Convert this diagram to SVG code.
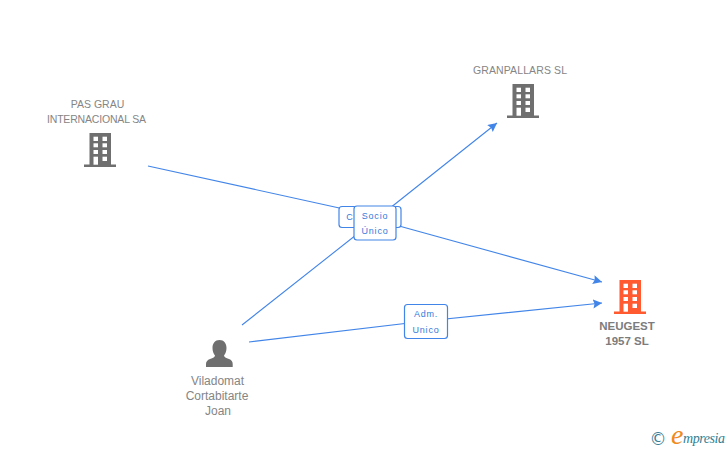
<svg xmlns="http://www.w3.org/2000/svg" width="728" height="450" viewBox="0 0 728 450">
<style>
text{font-family:"Liberation Sans",Arial,sans-serif}
.n{font-size:10.5px;fill:#858585;text-anchor:middle}
.b{font-size:11.5px;font-weight:bold;fill:#7c7c7c;text-anchor:middle}
.p{font-size:12px;fill:#858585;text-anchor:middle}
.l{font-size:9px;fill:#3579dc;text-anchor:middle;letter-spacing:.8px}
.c{fill:none;stroke:#4285e8;stroke-width:1.1}
.r{fill:#fff;stroke:#4285e8;stroke-width:1.2}
.g{fill:#6f6f6f}.o{fill:#ff5a30}.w{fill:#fff}
</style>
<defs>
<marker id="a" markerUnits="userSpaceOnUse" markerWidth="10" markerHeight="10" refX="9" refY="4.500" orient="auto"><path d="M0,0L9,4.500L0,9L1.500,4.500Z" fill="#4285e8"/></marker>
<g id="win">
<rect class="w" x="9.500" y="3.700" width="4.500" height="4.300"/><rect class="w" x="18.500" y="3.700" width="4.500" height="4.300"/>
<rect class="w" x="9.500" y="10.300" width="4.500" height="4"/><rect class="w" x="18.500" y="10.300" width="4.500" height="4"/>
<rect class="w" x="9.500" y="17" width="4.500" height="4"/><rect class="w" x="18.500" y="17" width="4.500" height="4"/>
<rect class="w" x="9.500" y="23.700" width="4.500" height="8"/><rect class="w" x="18.500" y="23.700" width="4.500" height="4.300"/>
</g>
<path id="bld" d="M5.500,0H27V31.500H32V34H0V31.500H5.500Z"/>
</defs>
<g id="connectors">
<polyline class="c" points="148,166 345,209.200 400,226.300 602,282" marker-end="url(#a)"/>
<polyline class="c" points="242,325 375,220 497,123" marker-end="url(#a)"/>
<polyline class="c" points="249,342 426,321 602,303" marker-end="url(#a)"/>
</g>
<g id="pas-grau">
<text class="n" x="97.500" y="108">PAS GRAU</text>
<text class="n" x="96.500" y="123" textLength="99">INTERNACIONAL SA</text>
<g transform="translate(84,133)"><use href="#bld" class="g"/><use href="#win"/></g>
</g>
<g id="granpallars">
<text class="n" x="520" y="74" textLength="94">GRANPALLARS SL</text>
<g transform="translate(507,84)"><use href="#bld" class="g"/><use href="#win"/></g>
</g>
<g id="neugest">
<g transform="translate(614,280)"><use href="#bld" class="o"/><use href="#win"/></g>
<text class="b" x="627" y="330">NEUGEST</text>
<text class="b" x="627" y="345">1957 SL</text>
</g>
<g id="viladomat">
<path class="g" d="M219.500,340C224,340 226.500,343.500 226.500,348C226.500,351 225.500,353.500 224,355.500C224,357 226,358 229,359C231.500,360 232.700,361.500 232.700,364V367H206V364C206,361.500 207.500,360 210,359C213,358 215,357 215,355.500C213.500,353.500 212.500,351 212.500,348C212.500,343.500 215,340 219.500,340Z"/>
<text class="p" x="217.500" y="385">Viladomat</text>
<text class="p" x="217" y="400">Cortabitarte</text>
<text class="p" x="218" y="415">Joan</text>
</g>
<g id="label-c">
<rect class="r" x="339" y="206.500" width="62" height="21" rx="3"/>
<text class="l" x="350" y="220">C</text>
</g>
<g id="label-socio">
<rect class="r" x="354" y="206" width="42" height="34" rx="3"/>
<text class="l" x="375" y="219">Socio</text>
<text class="l" x="375" y="234">Único</text>
</g>
<g id="label-adm">
<rect class="r" x="404.500" y="304.500" width="43" height="34" rx="3"/>
<text class="l" x="426" y="317">Adm.</text>
<text class="l" x="426" y="333">Unico</text>
</g>
<g id="logo">
<text x="649.500" y="445" font-size="17" fill="#3b7d95" style="font-family:'DejaVu Sans',sans-serif">©</text>
<text x="671" y="443.500" font-size="28" fill="#f08a1d" font-style="italic" style="font-family:'Liberation Serif',serif">e</text>
<text x="683" y="443" font-size="14" fill="#2f7f94" font-style="italic" style="font-family:'Liberation Serif',serif" textLength="42">mpresia</text>
</g>
</svg>
